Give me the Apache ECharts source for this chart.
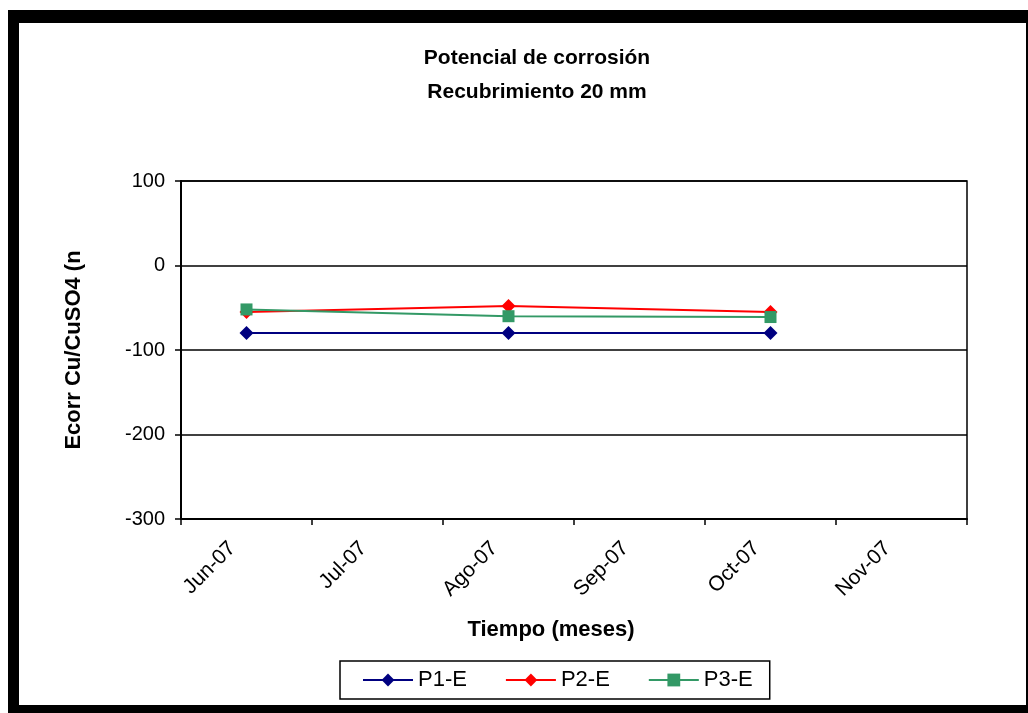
<!DOCTYPE html>
<html>
<head>
<meta charset="utf-8">
<script src="https://cdn.jsdelivr.net/npm/echarts@6/dist/echarts.min.js"></script>
<style>
  html, body { margin: 0; padding: 0; background: #fff; }
  #chart { width: 1028px; height: 713px; }
</style>
</head>
<body>
<div id="chart"></div>
<script>
const categories = ['Jun-07', 'Jul-07', 'Ago-07', 'Sep-07', 'Oct-07', 'Nov-07'];
const yTicks = { min: -300, max: 100, step: 100 };
const seriesNames = ['P1-E', 'P2-E', 'P3-E'];
const p1 = [-80, null, -80, null, -80, null];
const p2 = [-55, null, -48, null, -55, null];
const p3 = [-52, null, -60, null, -61, null];

const FONT = '"Liberation Sans", Arial, sans-serif';
const chart = echarts.init(document.getElementById('chart'));

chart.setOption({
  animation: false,
  backgroundColor: '#ffffff',
  graphic: [
    { type: 'rect', z: -20, silent: true, shape: { x: 8, y: 10, width: 1020, height: 703 }, style: { fill: '#000' } },
    { type: 'rect', z: -19, silent: true, shape: { x: 19, y: 23, width: 1007, height: 682 }, style: { fill: '#fff' } }
  ],
  title: {
    text: 'Potencial de corrosión\nRecubrimiento 20 mm',
    left: 537,
    top: 41,
    textAlign: 'center',
    padding: 0,
    textStyle: { fontFamily: FONT, fontSize: 21, fontWeight: 'bold', color: '#000', lineHeight: 34 }
  },
  legend: {
    data: seriesNames,
    left: 340,
    top: 661,
    orient: 'horizontal',
    padding: [8, 17, 8, 22],
    itemGap: 38,
    itemWidth: 50,
    itemHeight: 16,
    borderColor: '#000',
    borderWidth: 1.5,
    textStyle: { fontFamily: FONT, fontSize: 22, color: '#000' }
  },
  grid: {
    left: 181, right: 61, top: 181, bottom: 194,
    show: true, borderColor: '#000', borderWidth: 1.5, backgroundColor: 'transparent'
  },
  xAxis: {
    type: 'category',
    data: categories,
    boundaryGap: true,
    name: 'Tiempo (meses)',
    nameLocation: 'middle',
    nameGap: 100,
    nameTextStyle: { fontFamily: FONT, fontSize: 22, fontWeight: 'bold', color: '#000', padding: [0, 46, 0, 0] },
    axisLine: { show: true, onZero: false, lineStyle: { color: '#000', width: 2 } },
    axisTick: { show: true, length: 6, lineStyle: { color: '#000', width: 1.5 } },
    axisLabel: { rotate: 45, margin: 12, padding: [0, 20, 0, 0], fontFamily: FONT, fontSize: 21, color: '#000', interval: 0 },
    splitLine: { show: false }
  },
  yAxis: {
    type: 'value',
    min: yTicks.min,
    max: yTicks.max,
    interval: yTicks.step,
    name: 'Ecorr Cu/CuSO4 (n',
    nameLocation: 'middle',
    nameGap: 96,
    nameTextStyle: { fontFamily: FONT, fontSize: 22, fontWeight: 'bold', color: '#000' },
    axisLine: { show: true, lineStyle: { color: '#000', width: 2 } },
    axisTick: { show: true, length: 6, lineStyle: { color: '#000', width: 1.5 } },
    axisLabel: { margin: 16, fontFamily: FONT, fontSize: 20, color: '#000' },
    splitLine: { show: true, lineStyle: { color: '#000', width: 1.5 } }
  },
  series: [
    {
      name: seriesNames[0], type: 'line', data: p1, connectNulls: true,
      symbol: 'diamond', symbolSize: 14, showAllSymbol: true,
      itemStyle: { color: '#000080' }, lineStyle: { color: '#000080', width: 2 }
    },
    {
      name: seriesNames[1], type: 'line', data: p2, connectNulls: true,
      symbol: 'diamond', symbolSize: 14, showAllSymbol: true,
      itemStyle: { color: '#ff0000' }, lineStyle: { color: '#ff0000', width: 2 }
    },
    {
      name: seriesNames[2], type: 'line', data: p3, connectNulls: true,
      symbol: 'rect', symbolSize: 12, showAllSymbol: true,
      itemStyle: { color: '#339966' }, lineStyle: { color: '#339966', width: 2 }
    }
  ]
});
</script>
</body>
</html>
